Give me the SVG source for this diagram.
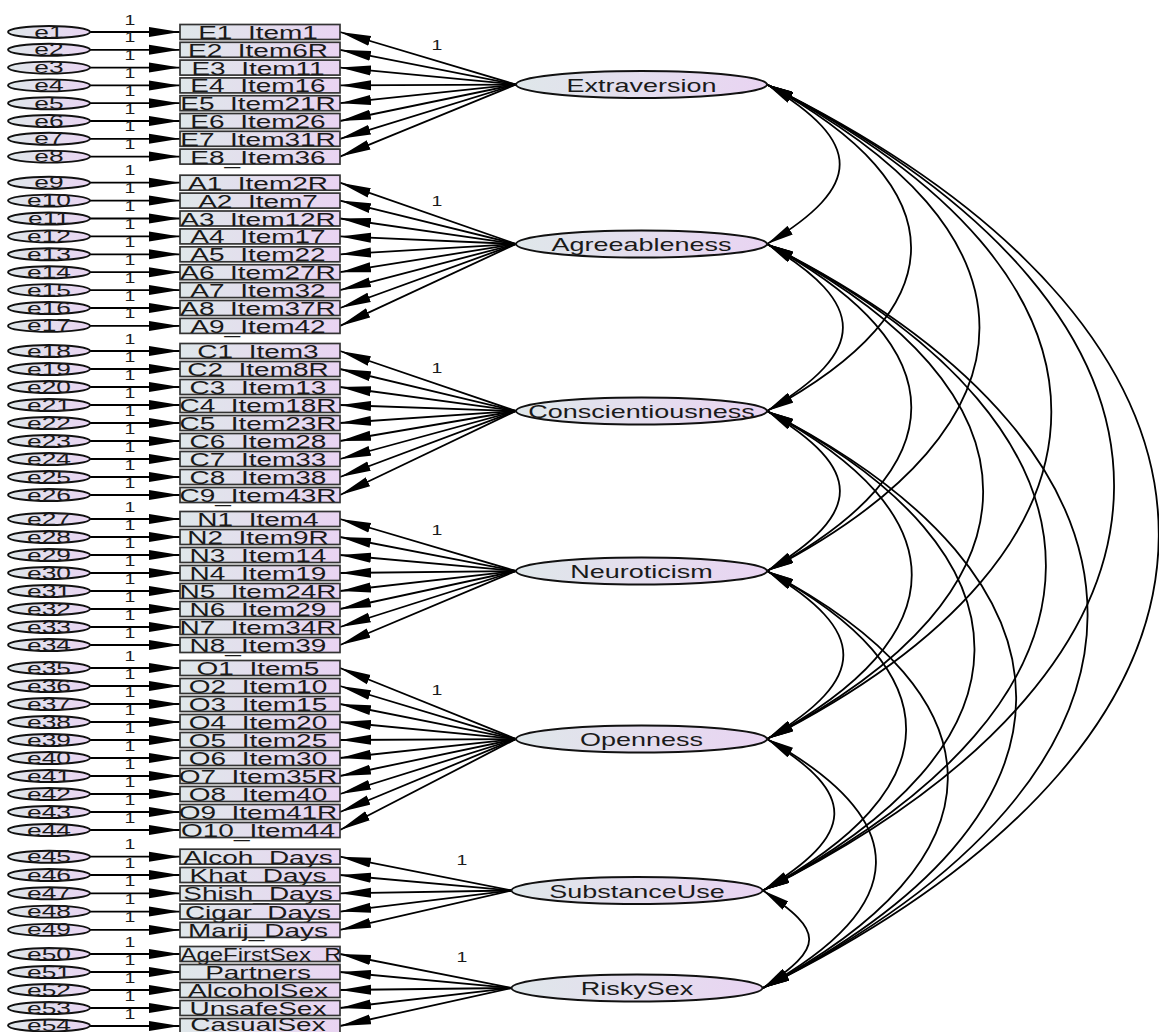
<svg xmlns="http://www.w3.org/2000/svg" width="1159" height="1032" viewBox="0 0 1159 1032">
<defs>
  <linearGradient id="fillg" x1="0" y1="0" x2="1" y2="0">
    <stop offset="0" stop-color="#dfe7ea"/>
    <stop offset="1" stop-color="#e9d4f2"/>
  </linearGradient>
  <marker id="ah" markerUnits="userSpaceOnUse" viewBox="0 0 32 11" markerWidth="32" markerHeight="11" refX="31" refY="5.5" orient="auto">
    <path d="M0 0.5 L31 5.5 L0 10.5 z" fill="#000"/>
  </marker>
  <marker id="ch" markerUnits="userSpaceOnUse" viewBox="0 0 28 10" markerWidth="28" markerHeight="10" refX="27" refY="5" orient="auto-start-reverse">
    <path d="M0 0 L27 5 L0 10 z" fill="#000"/>
  </marker>
  <style>
    .box { fill:url(#fillg); stroke:#333; stroke-width:1.7; }
    .err { fill:url(#fillg); stroke:#111; stroke-width:1.9; }
    .lat { fill:url(#fillg); stroke:#111; stroke-width:1.9; }
    text { font-family:"Liberation Sans", Arial, sans-serif; fill:#1a1a1a; text-anchor:middle; }
    .tb { font-size:17.5px; }
    .te { font-size:17px; }
    .tl { font-size:19px; }
    .t1 { font-size:15px; }
    .arr { stroke:#000; stroke-width:1.8; fill:none; marker-end:url(#ah); }
    .cov { stroke:#000; stroke-width:1.8; fill:none; marker-start:url(#ch); marker-end:url(#ch); }
  </style>
</defs>
<rect width="1159" height="1032" fill="#fff"/>

<g id="connectors">
  <!-- error terms to indicators -->
  <path class="arr" d="M90 32 H180"/><path class="arr" d="M90 49.8 H180"/><path class="arr" d="M90 67.6 H180"/><path class="arr" d="M90 85.4 H180"/>
  <path class="arr" d="M90 103.2 H180"/><path class="arr" d="M90 121 H180"/><path class="arr" d="M90 138.8 H180"/><path class="arr" d="M90 156.6 H180"/>
  <path class="arr" d="M90 182.7 H180"/><path class="arr" d="M90 200.6 H180"/><path class="arr" d="M90 218.5 H180"/><path class="arr" d="M90 236.4 H180"/>
  <path class="arr" d="M90 254.3 H180"/><path class="arr" d="M90 272.2 H180"/><path class="arr" d="M90 290.1 H180"/><path class="arr" d="M90 308 H180"/>
  <path class="arr" d="M90 325.9 H180"/>
  <path class="arr" d="M90 351 H180"/><path class="arr" d="M90 369 H180"/><path class="arr" d="M90 387 H180"/><path class="arr" d="M90 405 H180"/>
  <path class="arr" d="M90 423 H180"/><path class="arr" d="M90 441 H180"/><path class="arr" d="M90 459 H180"/><path class="arr" d="M90 477 H180"/>
  <path class="arr" d="M90 495 H180"/>
  <path class="arr" d="M90 519 H180"/><path class="arr" d="M90 537 H180"/><path class="arr" d="M90 555 H180"/><path class="arr" d="M90 573 H180"/>
  <path class="arr" d="M90 591 H180"/><path class="arr" d="M90 609 H180"/><path class="arr" d="M90 627 H180"/><path class="arr" d="M90 645 H180"/>
  <path class="arr" d="M90 668 H180"/><path class="arr" d="M90 686 H180"/><path class="arr" d="M90 704 H180"/><path class="arr" d="M90 722 H180"/>
  <path class="arr" d="M90 740 H180"/><path class="arr" d="M90 758 H180"/><path class="arr" d="M90 776 H180"/><path class="arr" d="M90 794 H180"/>
  <path class="arr" d="M90 812 H180"/><path class="arr" d="M90 830 H180"/>
  <path class="arr" d="M90 856.7 H180"/><path class="arr" d="M90 875 H180"/><path class="arr" d="M90 893.3 H180"/><path class="arr" d="M90 911.6 H180"/>
  <path class="arr" d="M90 929.9 H180"/>
  <path class="arr" d="M90 954 H180"/><path class="arr" d="M90 972 H180"/><path class="arr" d="M90 990 H180"/><path class="arr" d="M90 1008 H180"/>
  <path class="arr" d="M90 1026 H180"/>

  <!-- factor loadings -->
  <path class="arr" d="M516 84.5 L340 32"/><path class="arr" d="M516 84.5 L340 49.8"/><path class="arr" d="M516 84.5 L340 67.6"/><path class="arr" d="M516 84.5 L340 85.4"/>
  <path class="arr" d="M516 84.5 L340 103.2"/><path class="arr" d="M516 84.5 L340 121"/><path class="arr" d="M516 84.5 L340 138.8"/><path class="arr" d="M516 84.5 L340 156.6"/>

  <path class="arr" d="M516 244 L340 182.7"/><path class="arr" d="M516 244 L340 200.6"/><path class="arr" d="M516 244 L340 218.5"/><path class="arr" d="M516 244 L340 236.4"/>
  <path class="arr" d="M516 244 L340 254.3"/><path class="arr" d="M516 244 L340 272.2"/><path class="arr" d="M516 244 L340 290.1"/><path class="arr" d="M516 244 L340 308"/>
  <path class="arr" d="M516 244 L340 325.9"/>

  <path class="arr" d="M516 411 L340 351"/><path class="arr" d="M516 411 L340 369"/><path class="arr" d="M516 411 L340 387"/><path class="arr" d="M516 411 L340 405"/>
  <path class="arr" d="M516 411 L340 423"/><path class="arr" d="M516 411 L340 441"/><path class="arr" d="M516 411 L340 459"/><path class="arr" d="M516 411 L340 477"/>
  <path class="arr" d="M516 411 L340 495"/>

  <path class="arr" d="M516 571 L340 519"/><path class="arr" d="M516 571 L340 537"/><path class="arr" d="M516 571 L340 555"/><path class="arr" d="M516 571 L340 573"/>
  <path class="arr" d="M516 571 L340 591"/><path class="arr" d="M516 571 L340 609"/><path class="arr" d="M516 571 L340 627"/><path class="arr" d="M516 571 L340 645"/>

  <path class="arr" d="M516 739 L340 668"/><path class="arr" d="M516 739 L340 686"/><path class="arr" d="M516 739 L340 704"/><path class="arr" d="M516 739 L340 722"/>
  <path class="arr" d="M516 739 L340 740"/><path class="arr" d="M516 739 L340 758"/><path class="arr" d="M516 739 L340 776"/><path class="arr" d="M516 739 L340 794"/>
  <path class="arr" d="M516 739 L340 812"/><path class="arr" d="M516 739 L340 830"/>

  <path class="arr" d="M511.5 890.5 L340 856.7"/><path class="arr" d="M511.5 890.5 L340 875"/><path class="arr" d="M511.5 890.5 L340 893.3"/>
  <path class="arr" d="M511.5 890.5 L340 911.6"/><path class="arr" d="M511.5 890.5 L340 929.9"/>

  <path class="arr" d="M511.5 988 L340 954"/><path class="arr" d="M511.5 988 L340 972"/><path class="arr" d="M511.5 988 L340 990"/>
  <path class="arr" d="M511.5 988 L340 1008"/><path class="arr" d="M511.5 988 L340 1026"/>

  <!-- covariances between factors -->
  <path class="cov" d="M767 84.5 C863.9 142.6 863.9 185.9 767 244"/>
  <path class="cov" d="M767 84.5 C959.1 187.7 959.1 307.8 767 411"/>
  <path class="cov" d="M767 84.5 C1050.3 230.9 1050.3 424.6 767 571"/>
  <path class="cov" d="M767 84.5 C1146.1 276.2 1146.1 547.3 767 739"/>
  <path class="cov" d="M767 84.5 C1232.4 317.1 1228.4 657.9 763 890.5"/>
  <path class="cov" d="M767 84.5 C1292 343.5 1288 729 763 988"/>
  <path class="cov" d="M767 244 C868.2 304.1 868.2 350.9 767 411"/>
  <path class="cov" d="M767 244 C959.4 347.3 959.4 467.7 767 571"/>
  <path class="cov" d="M767 244 C1055.2 392.7 1055.2 590.3 767 739"/>
  <path class="cov" d="M767 244 C1141.5 433.6 1137.5 700.9 763 890.5"/>
  <path class="cov" d="M767 244 C1197.1 459.9 1193.1 772.1 763 988"/>
  <path class="cov" d="M767 411 C864.2 469.2 864.2 512.8 767 571"/>
  <path class="cov" d="M767 411 C960 514.6 960 635.4 767 739"/>
  <path class="cov" d="M767 411 C1046.3 555.5 1042.3 746 763 890.5"/>
  <path class="cov" d="M767 411 C1101.9 581.8 1097.9 817.2 763 988"/>
  <path class="cov" d="M767 571 C868.8 631.4 868.8 678.6 767 739"/>
  <path class="cov" d="M767 571 C955.1 672.3 951.1 789.2 763 890.5"/>
  <path class="cov" d="M767 571 C1010.7 698.6 1006.7 860.4 763 988"/>
  <path class="cov" d="M767 739 C859.4 794.9 855.4 834.6 763 890.5"/>
  <path class="cov" d="M767 739 C914.9 821.2 910.9 905.8 763 988"/>
  <path class="cov" d="M763 890.5 C824.6 931.8 824.6 946.7 763 988"/>

  <!-- fixed path labels -->
  <g class="t1">
    <text transform="translate(130,24.5) scale(1.3,1)">1</text><text transform="translate(130,42.3) scale(1.3,1)">1</text>
    <text transform="translate(130,60.1) scale(1.3,1)">1</text><text transform="translate(130,77.9) scale(1.3,1)">1</text>
    <text transform="translate(130,95.7) scale(1.3,1)">1</text><text transform="translate(130,113.5) scale(1.3,1)">1</text>
    <text transform="translate(130,131.3) scale(1.3,1)">1</text><text transform="translate(130,149.1) scale(1.3,1)">1</text>
    <text transform="translate(130,175.2) scale(1.3,1)">1</text><text transform="translate(130,193.1) scale(1.3,1)">1</text>
    <text transform="translate(130,211) scale(1.3,1)">1</text><text transform="translate(130,228.9) scale(1.3,1)">1</text>
    <text transform="translate(130,246.8) scale(1.3,1)">1</text><text transform="translate(130,264.7) scale(1.3,1)">1</text>
    <text transform="translate(130,282.6) scale(1.3,1)">1</text><text transform="translate(130,300.5) scale(1.3,1)">1</text>
    <text transform="translate(130,318.4) scale(1.3,1)">1</text>
    <text transform="translate(130,343.5) scale(1.3,1)">1</text><text transform="translate(130,361.5) scale(1.3,1)">1</text>
    <text transform="translate(130,379.5) scale(1.3,1)">1</text><text transform="translate(130,397.5) scale(1.3,1)">1</text>
    <text transform="translate(130,415.5) scale(1.3,1)">1</text><text transform="translate(130,433.5) scale(1.3,1)">1</text>
    <text transform="translate(130,451.5) scale(1.3,1)">1</text><text transform="translate(130,469.5) scale(1.3,1)">1</text>
    <text transform="translate(130,487.5) scale(1.3,1)">1</text>
    <text transform="translate(130,511.5) scale(1.3,1)">1</text><text transform="translate(130,529.5) scale(1.3,1)">1</text>
    <text transform="translate(130,547.5) scale(1.3,1)">1</text><text transform="translate(130,565.5) scale(1.3,1)">1</text>
    <text transform="translate(130,583.5) scale(1.3,1)">1</text><text transform="translate(130,601.5) scale(1.3,1)">1</text>
    <text transform="translate(130,619.5) scale(1.3,1)">1</text><text transform="translate(130,637.5) scale(1.3,1)">1</text>
    <text transform="translate(130,660.5) scale(1.3,1)">1</text><text transform="translate(130,678.5) scale(1.3,1)">1</text>
    <text transform="translate(130,696.5) scale(1.3,1)">1</text><text transform="translate(130,714.5) scale(1.3,1)">1</text>
    <text transform="translate(130,732.5) scale(1.3,1)">1</text><text transform="translate(130,750.5) scale(1.3,1)">1</text>
    <text transform="translate(130,768.5) scale(1.3,1)">1</text><text transform="translate(130,786.5) scale(1.3,1)">1</text>
    <text transform="translate(130,804.5) scale(1.3,1)">1</text><text transform="translate(130,822.5) scale(1.3,1)">1</text>
    <text transform="translate(130,849.2) scale(1.3,1)">1</text><text transform="translate(130,867.5) scale(1.3,1)">1</text>
    <text transform="translate(130,885.8) scale(1.3,1)">1</text><text transform="translate(130,904.1) scale(1.3,1)">1</text>
    <text transform="translate(130,922.4) scale(1.3,1)">1</text>
    <text transform="translate(130,946.5) scale(1.3,1)">1</text><text transform="translate(130,964.5) scale(1.3,1)">1</text>
    <text transform="translate(130,982.5) scale(1.3,1)">1</text><text transform="translate(130,1000.5) scale(1.3,1)">1</text>
    <text transform="translate(130,1018.5) scale(1.3,1)">1</text>
    <!-- first loading of each factor -->
    <text transform="translate(437,50) scale(1.3,1)">1</text>
    <text transform="translate(437,206) scale(1.3,1)">1</text>
    <text transform="translate(437,373) scale(1.3,1)">1</text>
    <text transform="translate(437,535) scale(1.3,1)">1</text>
    <text transform="translate(437,695) scale(1.3,1)">1</text>
    <text transform="translate(462,865) scale(1.3,1)">1</text>
    <text transform="translate(462,962) scale(1.3,1)">1</text>
  </g>
</g>

<!-- error terms -->
<g class="te">
  <g id="e1"><ellipse class="err" cx="49" cy="32" rx="41" ry="6"/><text transform="translate(49,37.5) scale(1.55,1)">e1</text></g>
  <g id="e2"><ellipse class="err" cx="49" cy="49.8" rx="41" ry="6"/><text transform="translate(49,55.3) scale(1.55,1)">e2</text></g>
  <g id="e3"><ellipse class="err" cx="49" cy="67.6" rx="41" ry="6"/><text transform="translate(49,73.1) scale(1.55,1)">e3</text></g>
  <g id="e4"><ellipse class="err" cx="49" cy="85.4" rx="41" ry="6"/><text transform="translate(49,90.9) scale(1.55,1)">e4</text></g>
  <g id="e5"><ellipse class="err" cx="49" cy="103.2" rx="41" ry="6"/><text transform="translate(49,108.7) scale(1.55,1)">e5</text></g>
  <g id="e6"><ellipse class="err" cx="49" cy="121" rx="41" ry="6"/><text transform="translate(49,126.5) scale(1.55,1)">e6</text></g>
  <g id="e7"><ellipse class="err" cx="49" cy="138.8" rx="41" ry="6"/><text transform="translate(49,144.3) scale(1.55,1)">e7</text></g>
  <g id="e8"><ellipse class="err" cx="49" cy="156.6" rx="41" ry="6"/><text transform="translate(49,162.1) scale(1.55,1)">e8</text></g>
  <g id="e9"><ellipse class="err" cx="49" cy="182.7" rx="41" ry="6"/><text transform="translate(49,188.2) scale(1.55,1)">e9</text></g>
  <g id="e10"><ellipse class="err" cx="49" cy="200.6" rx="41" ry="6"/><text transform="translate(49,206.1) scale(1.55,1)">e10</text></g>
  <g id="e11"><ellipse class="err" cx="49" cy="218.5" rx="41" ry="6"/><text transform="translate(49,224) scale(1.55,1)">e11</text></g>
  <g id="e12"><ellipse class="err" cx="49" cy="236.4" rx="41" ry="6"/><text transform="translate(49,241.9) scale(1.55,1)">e12</text></g>
  <g id="e13"><ellipse class="err" cx="49" cy="254.3" rx="41" ry="6"/><text transform="translate(49,259.8) scale(1.55,1)">e13</text></g>
  <g id="e14"><ellipse class="err" cx="49" cy="272.2" rx="41" ry="6"/><text transform="translate(49,277.7) scale(1.55,1)">e14</text></g>
  <g id="e15"><ellipse class="err" cx="49" cy="290.1" rx="41" ry="6"/><text transform="translate(49,295.6) scale(1.55,1)">e15</text></g>
  <g id="e16"><ellipse class="err" cx="49" cy="308" rx="41" ry="6"/><text transform="translate(49,313.5) scale(1.55,1)">e16</text></g>
  <g id="e17"><ellipse class="err" cx="49" cy="325.9" rx="41" ry="6"/><text transform="translate(49,331.4) scale(1.55,1)">e17</text></g>
  <g id="e18"><ellipse class="err" cx="49" cy="351" rx="41" ry="6"/><text transform="translate(49,356.5) scale(1.55,1)">e18</text></g>
  <g id="e19"><ellipse class="err" cx="49" cy="369" rx="41" ry="6"/><text transform="translate(49,374.5) scale(1.55,1)">e19</text></g>
  <g id="e20"><ellipse class="err" cx="49" cy="387" rx="41" ry="6"/><text transform="translate(49,392.5) scale(1.55,1)">e20</text></g>
  <g id="e21"><ellipse class="err" cx="49" cy="405" rx="41" ry="6"/><text transform="translate(49,410.5) scale(1.55,1)">e21</text></g>
  <g id="e22"><ellipse class="err" cx="49" cy="423" rx="41" ry="6"/><text transform="translate(49,428.5) scale(1.55,1)">e22</text></g>
  <g id="e23"><ellipse class="err" cx="49" cy="441" rx="41" ry="6"/><text transform="translate(49,446.5) scale(1.55,1)">e23</text></g>
  <g id="e24"><ellipse class="err" cx="49" cy="459" rx="41" ry="6"/><text transform="translate(49,464.5) scale(1.55,1)">e24</text></g>
  <g id="e25"><ellipse class="err" cx="49" cy="477" rx="41" ry="6"/><text transform="translate(49,482.5) scale(1.55,1)">e25</text></g>
  <g id="e26"><ellipse class="err" cx="49" cy="495" rx="41" ry="6"/><text transform="translate(49,500.5) scale(1.55,1)">e26</text></g>
  <g id="e27"><ellipse class="err" cx="49" cy="519" rx="41" ry="6"/><text transform="translate(49,524.5) scale(1.55,1)">e27</text></g>
  <g id="e28"><ellipse class="err" cx="49" cy="537" rx="41" ry="6"/><text transform="translate(49,542.5) scale(1.55,1)">e28</text></g>
  <g id="e29"><ellipse class="err" cx="49" cy="555" rx="41" ry="6"/><text transform="translate(49,560.5) scale(1.55,1)">e29</text></g>
  <g id="e30"><ellipse class="err" cx="49" cy="573" rx="41" ry="6"/><text transform="translate(49,578.5) scale(1.55,1)">e30</text></g>
  <g id="e31"><ellipse class="err" cx="49" cy="591" rx="41" ry="6"/><text transform="translate(49,596.5) scale(1.55,1)">e31</text></g>
  <g id="e32"><ellipse class="err" cx="49" cy="609" rx="41" ry="6"/><text transform="translate(49,614.5) scale(1.55,1)">e32</text></g>
  <g id="e33"><ellipse class="err" cx="49" cy="627" rx="41" ry="6"/><text transform="translate(49,632.5) scale(1.55,1)">e33</text></g>
  <g id="e34"><ellipse class="err" cx="49" cy="645" rx="41" ry="6"/><text transform="translate(49,650.5) scale(1.55,1)">e34</text></g>
  <g id="e35"><ellipse class="err" cx="49" cy="668" rx="41" ry="6"/><text transform="translate(49,673.5) scale(1.55,1)">e35</text></g>
  <g id="e36"><ellipse class="err" cx="49" cy="686" rx="41" ry="6"/><text transform="translate(49,691.5) scale(1.55,1)">e36</text></g>
  <g id="e37"><ellipse class="err" cx="49" cy="704" rx="41" ry="6"/><text transform="translate(49,709.5) scale(1.55,1)">e37</text></g>
  <g id="e38"><ellipse class="err" cx="49" cy="722" rx="41" ry="6"/><text transform="translate(49,727.5) scale(1.55,1)">e38</text></g>
  <g id="e39"><ellipse class="err" cx="49" cy="740" rx="41" ry="6"/><text transform="translate(49,745.5) scale(1.55,1)">e39</text></g>
  <g id="e40"><ellipse class="err" cx="49" cy="758" rx="41" ry="6"/><text transform="translate(49,763.5) scale(1.55,1)">e40</text></g>
  <g id="e41"><ellipse class="err" cx="49" cy="776" rx="41" ry="6"/><text transform="translate(49,781.5) scale(1.55,1)">e41</text></g>
  <g id="e42"><ellipse class="err" cx="49" cy="794" rx="41" ry="6"/><text transform="translate(49,799.5) scale(1.55,1)">e42</text></g>
  <g id="e43"><ellipse class="err" cx="49" cy="812" rx="41" ry="6"/><text transform="translate(49,817.5) scale(1.55,1)">e43</text></g>
  <g id="e44"><ellipse class="err" cx="49" cy="830" rx="41" ry="6"/><text transform="translate(49,835.5) scale(1.55,1)">e44</text></g>
  <g id="e45"><ellipse class="err" cx="49" cy="856.7" rx="41" ry="6"/><text transform="translate(49,862.2) scale(1.55,1)">e45</text></g>
  <g id="e46"><ellipse class="err" cx="49" cy="875" rx="41" ry="6"/><text transform="translate(49,880.5) scale(1.55,1)">e46</text></g>
  <g id="e47"><ellipse class="err" cx="49" cy="893.3" rx="41" ry="6"/><text transform="translate(49,898.8) scale(1.55,1)">e47</text></g>
  <g id="e48"><ellipse class="err" cx="49" cy="911.6" rx="41" ry="6"/><text transform="translate(49,917.1) scale(1.55,1)">e48</text></g>
  <g id="e49"><ellipse class="err" cx="49" cy="929.9" rx="41" ry="6"/><text transform="translate(49,935.4) scale(1.55,1)">e49</text></g>
  <g id="e50"><ellipse class="err" cx="49" cy="954" rx="41" ry="6"/><text transform="translate(49,959.5) scale(1.55,1)">e50</text></g>
  <g id="e51"><ellipse class="err" cx="49" cy="972" rx="41" ry="6"/><text transform="translate(49,977.5) scale(1.55,1)">e51</text></g>
  <g id="e52"><ellipse class="err" cx="49" cy="990" rx="41" ry="6"/><text transform="translate(49,995.5) scale(1.55,1)">e52</text></g>
  <g id="e53"><ellipse class="err" cx="49" cy="1008" rx="41" ry="6"/><text transform="translate(49,1013.5) scale(1.55,1)">e53</text></g>
  <g id="e54"><ellipse class="err" cx="49" cy="1025.5" rx="41" ry="6"/><text transform="translate(49,1030.5) scale(1.55,1)">e54</text></g>
</g>

<!-- observed indicators -->
<g class="tb">
  <g id="E1_Item1"><rect class="box" x="180" y="24.5" width="160" height="15"/><text transform="translate(258,39) scale(1.6,1)">E1_Item1</text></g>
  <g id="E2_Item6R"><rect class="box" x="180" y="42.3" width="160" height="15"/><text transform="translate(258,56.8) scale(1.6,1)">E2_Item6R</text></g>
  <g id="E3_Item11"><rect class="box" x="180" y="60.1" width="160" height="15"/><text transform="translate(258,74.6) scale(1.6,1)">E3_Item11</text></g>
  <g id="E4_Item16"><rect class="box" x="180" y="77.9" width="160" height="15"/><text transform="translate(258,92.4) scale(1.6,1)">E4_Item16</text></g>
  <g id="E5_Item21R"><rect class="box" x="180" y="95.7" width="160" height="15"/><text transform="translate(258,110.2) scale(1.6,1)">E5_Item21R</text></g>
  <g id="E6_Item26"><rect class="box" x="180" y="113.5" width="160" height="15"/><text transform="translate(258,128) scale(1.6,1)">E6_Item26</text></g>
  <g id="E7_Item31R"><rect class="box" x="180" y="131.3" width="160" height="15"/><text transform="translate(258,145.8) scale(1.6,1)">E7_Item31R</text></g>
  <g id="E8_Item36"><rect class="box" x="180" y="149.1" width="160" height="15"/><text transform="translate(258,163.6) scale(1.6,1)">E8_Item36</text></g>

  <g id="A1_Item2R"><rect class="box" x="180" y="175.2" width="160" height="15"/><text transform="translate(258,189.7) scale(1.6,1)">A1_Item2R</text></g>
  <g id="A2_Item7"><rect class="box" x="180" y="193.1" width="160" height="15"/><text transform="translate(258,207.6) scale(1.6,1)">A2_Item7</text></g>
  <g id="A3_Item12R"><rect class="box" x="180" y="211" width="160" height="15"/><text transform="translate(258,225.5) scale(1.6,1)">A3_Item12R</text></g>
  <g id="A4_Item17"><rect class="box" x="180" y="228.9" width="160" height="15"/><text transform="translate(258,243.4) scale(1.6,1)">A4_Item17</text></g>
  <g id="A5_Item22"><rect class="box" x="180" y="246.8" width="160" height="15"/><text transform="translate(258,261.3) scale(1.6,1)">A5_Item22</text></g>
  <g id="A6_Item27R"><rect class="box" x="180" y="264.7" width="160" height="15"/><text transform="translate(258,279.2) scale(1.6,1)">A6_Item27R</text></g>
  <g id="A7_Item32"><rect class="box" x="180" y="282.6" width="160" height="15"/><text transform="translate(258,297.1) scale(1.6,1)">A7_Item32</text></g>
  <g id="A8_Item37R"><rect class="box" x="180" y="300.5" width="160" height="15"/><text transform="translate(258,315) scale(1.6,1)">A8_Item37R</text></g>
  <g id="A9_Item42"><rect class="box" x="180" y="318.4" width="160" height="15"/><text transform="translate(258,332.9) scale(1.6,1)">A9_Item42</text></g>

  <g id="C1_Item3"><rect class="box" x="180" y="343.5" width="160" height="15"/><text transform="translate(258,358) scale(1.6,1)">C1_Item3</text></g>
  <g id="C2_Item8R"><rect class="box" x="180" y="361.5" width="160" height="15"/><text transform="translate(258,376) scale(1.6,1)">C2_Item8R</text></g>
  <g id="C3_Item13"><rect class="box" x="180" y="379.5" width="160" height="15"/><text transform="translate(258,394) scale(1.6,1)">C3_Item13</text></g>
  <g id="C4_Item18R"><rect class="box" x="180" y="397.5" width="160" height="15"/><text transform="translate(258,412) scale(1.6,1)">C4_Item18R</text></g>
  <g id="C5_Item23R"><rect class="box" x="180" y="415.5" width="160" height="15"/><text transform="translate(258,430) scale(1.6,1)">C5_Item23R</text></g>
  <g id="C6_Item28"><rect class="box" x="180" y="433.5" width="160" height="15"/><text transform="translate(258,448) scale(1.6,1)">C6_Item28</text></g>
  <g id="C7_Item33"><rect class="box" x="180" y="451.5" width="160" height="15"/><text transform="translate(258,466) scale(1.6,1)">C7_Item33</text></g>
  <g id="C8_Item38"><rect class="box" x="180" y="469.5" width="160" height="15"/><text transform="translate(258,484) scale(1.6,1)">C8_Item38</text></g>
  <g id="C9_Item43R"><rect class="box" x="180" y="487.5" width="160" height="15"/><text transform="translate(258,502) scale(1.6,1)">C9_Item43R</text></g>

  <g id="N1_Item4"><rect class="box" x="180" y="511.5" width="160" height="15"/><text transform="translate(258,526) scale(1.6,1)">N1_Item4</text></g>
  <g id="N2_Item9R"><rect class="box" x="180" y="529.5" width="160" height="15"/><text transform="translate(258,544) scale(1.6,1)">N2_Item9R</text></g>
  <g id="N3_Item14"><rect class="box" x="180" y="547.5" width="160" height="15"/><text transform="translate(258,562) scale(1.6,1)">N3_Item14</text></g>
  <g id="N4_Item19"><rect class="box" x="180" y="565.5" width="160" height="15"/><text transform="translate(258,580) scale(1.6,1)">N4_Item19</text></g>
  <g id="N5_Item24R"><rect class="box" x="180" y="583.5" width="160" height="15"/><text transform="translate(258,598) scale(1.6,1)">N5_Item24R</text></g>
  <g id="N6_Item29"><rect class="box" x="180" y="601.5" width="160" height="15"/><text transform="translate(258,616) scale(1.6,1)">N6_Item29</text></g>
  <g id="N7_Item34R"><rect class="box" x="180" y="619.5" width="160" height="15"/><text transform="translate(258,634) scale(1.6,1)">N7_Item34R</text></g>
  <g id="N8_Item39"><rect class="box" x="180" y="637.5" width="160" height="15"/><text transform="translate(258,652) scale(1.6,1)">N8_Item39</text></g>

  <g id="O1_Item5"><rect class="box" x="180" y="660.5" width="160" height="15"/><text transform="translate(258,675) scale(1.6,1)">O1_Item5</text></g>
  <g id="O2_Item10"><rect class="box" x="180" y="678.5" width="160" height="15"/><text transform="translate(258,693) scale(1.6,1)">O2_Item10</text></g>
  <g id="O3_Item15"><rect class="box" x="180" y="696.5" width="160" height="15"/><text transform="translate(258,711) scale(1.6,1)">O3_Item15</text></g>
  <g id="O4_Item20"><rect class="box" x="180" y="714.5" width="160" height="15"/><text transform="translate(258,729) scale(1.6,1)">O4_Item20</text></g>
  <g id="O5_Item25"><rect class="box" x="180" y="732.5" width="160" height="15"/><text transform="translate(258,747) scale(1.6,1)">O5_Item25</text></g>
  <g id="O6_Item30"><rect class="box" x="180" y="750.5" width="160" height="15"/><text transform="translate(258,765) scale(1.6,1)">O6_Item30</text></g>
  <g id="O7_Item35R"><rect class="box" x="180" y="768.5" width="160" height="15"/><text transform="translate(258,783) scale(1.6,1)">O7_Item35R</text></g>
  <g id="O8_Item40"><rect class="box" x="180" y="786.5" width="160" height="15"/><text transform="translate(258,801) scale(1.6,1)">O8_Item40</text></g>
  <g id="O9_Item41R"><rect class="box" x="180" y="804.5" width="160" height="15"/><text transform="translate(258,819) scale(1.6,1)">O9_Item41R</text></g>
  <g id="O10_Item44"><rect class="box" x="180" y="822.5" width="160" height="15"/><text transform="translate(258,837) scale(1.6,1)">O10_Item44</text></g>

  <g id="Alcoh_Days"><rect class="box" x="180" y="849.2" width="160" height="15"/><text transform="translate(258,863.7) scale(1.6,1)">Alcoh_Days</text></g>
  <g id="Khat_Days"><rect class="box" x="180" y="867.5" width="160" height="15"/><text transform="translate(258,882) scale(1.6,1)">Khat_Days</text></g>
  <g id="Shish_Days"><rect class="box" x="180" y="885.8" width="160" height="15"/><text transform="translate(258,900.3) scale(1.6,1)">Shish_Days</text></g>
  <g id="Cigar_Days"><rect class="box" x="180" y="904.1" width="160" height="15"/><text transform="translate(258,918.6) scale(1.6,1)">Cigar_Days</text></g>
  <g id="Marij_Days"><rect class="box" x="180" y="922.4" width="160" height="15"/><text transform="translate(258,936.9) scale(1.6,1)">Marij_Days</text></g>

  <g id="AgeFirstSex_R"><rect class="box" x="180" y="946.5" width="160" height="15"/><text transform="translate(261,961) scale(1.37,1)">AgeFirstSex_R</text></g>
  <g id="Partners"><rect class="box" x="180" y="964.5" width="160" height="15"/><text transform="translate(258,979) scale(1.6,1)">Partners</text></g>
  <g id="AlcoholSex"><rect class="box" x="180" y="982.5" width="160" height="15"/><text transform="translate(258,997) scale(1.6,1)">AlcoholSex</text></g>
  <g id="UnsafeSex"><rect class="box" x="180" y="1000.5" width="160" height="15"/><text transform="translate(258,1015) scale(1.6,1)">UnsafeSex</text></g>
  <g id="CasualSex"><rect class="box" x="180" y="1018.5" width="160" height="15"/><text transform="translate(258,1031) scale(1.6,1)">CasualSex</text></g>
</g>

<!-- latent factors -->
<g class="tl">
  <g id="Extraversion"><ellipse class="lat" cx="641.5" cy="84.5" rx="125.5" ry="13.5"/><text transform="translate(641.5,91.5) scale(1.42,1)">Extraversion</text></g>
  <g id="Agreeableness"><ellipse class="lat" cx="641.5" cy="244" rx="125.5" ry="13.5"/><text transform="translate(641.5,251) scale(1.42,1)">Agreeableness</text></g>
  <g id="Conscientiousness"><ellipse class="lat" cx="641.5" cy="411" rx="125.5" ry="13.5"/><text transform="translate(641.5,418) scale(1.42,1)">Conscientiousness</text></g>
  <g id="Neuroticism"><ellipse class="lat" cx="641.5" cy="571" rx="125.5" ry="13.5"/><text transform="translate(641.5,578) scale(1.42,1)">Neuroticism</text></g>
  <g id="Openness"><ellipse class="lat" cx="641.5" cy="739" rx="125.5" ry="13.5"/><text transform="translate(641.5,746) scale(1.42,1)">Openness</text></g>
  <g id="SubstanceUse"><ellipse class="lat" cx="637" cy="890.5" rx="125.5" ry="13.5"/><text transform="translate(637,897.5) scale(1.42,1)">SubstanceUse</text></g>
  <g id="RiskySex"><ellipse class="lat" cx="637" cy="988" rx="125.5" ry="13.5"/><text transform="translate(637,995) scale(1.42,1)">RiskySex</text></g>
</g>
</svg>
